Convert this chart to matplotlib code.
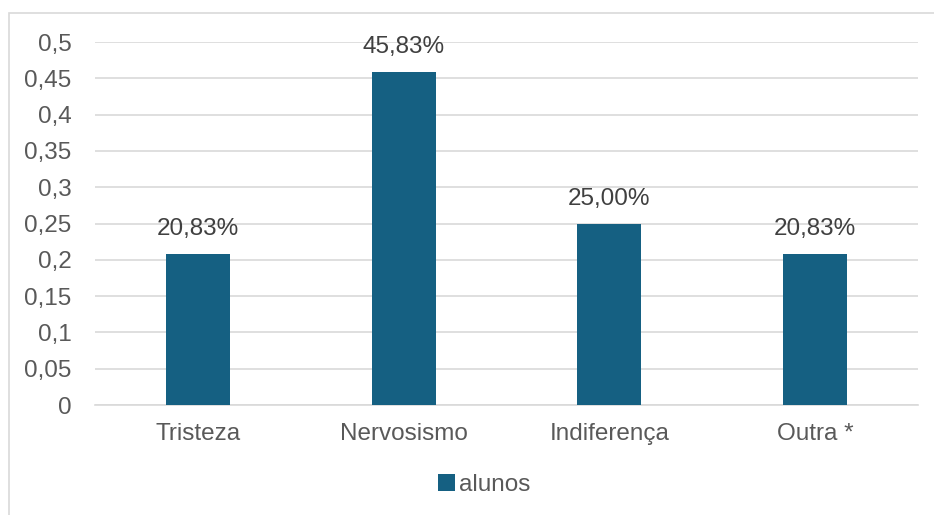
import matplotlib.pyplot as plt
from matplotlib.patches import Rectangle

categorias = ["Tristeza", "Nervosismo", "Indiferença", "Outra *"]
valores = [0.2083, 0.4583, 0.25, 0.2083]
rotulos = ["20,83%", "45,83%", "25,00%", "20,83%"]
yticks = [0, 0.05, 0.1, 0.15, 0.2, 0.25, 0.3, 0.35, 0.4, 0.45, 0.5]
ytick_labels = ["0", "0,05", "0,1", "0,15", "0,2", "0,25", "0,3", "0,35", "0,4", "0,45", "0,5"]

cor_barra = "#156082"
cor_texto = "#595959"

plt.rcParams['font.family'] = ['Liberation Sans', 'DejaVu Sans']

fig = plt.figure(figsize=(9.34, 5.15), dpi=100)
# borda do gráfico (cortada à direita e embaixo)
fig.patches.append(Rectangle((9 / 934, -0.05), 1.0, 1 - 13 / 515 + 0.05,
                             transform=fig.transFigure, fill=False,
                             edgecolor="#d9d9d9", linewidth=1.2))

ax = fig.add_axes([95 / 934, (515 - 405) / 515, 823 / 934, (405 - 42) / 515])
x = range(len(categorias))
ax.bar(x, valores, width=0.31, color=cor_barra, label="alunos", zorder=3)

for i, (v, r) in enumerate(zip(valores, rotulos)):
    ax.text(i, v + 0.019, r, ha="center", va="bottom", fontsize=17.5, color="#404040")

ax.set_xlim(-0.5, len(categorias) - 0.5)
ax.set_ylim(0, 0.5)
ax.set_yticks(yticks)
ax.set_yticklabels(ytick_labels, fontsize=17.5, color=cor_texto)
ax.set_xticks(list(x))
ax.set_xticklabels(categorias, fontsize=17.5, color=cor_texto)
ax.tick_params(axis="both", length=0)
ax.tick_params(axis="y", pad=17)
ax.tick_params(axis="x", pad=13)
ax.grid(axis="y", color="#d9d9d9", linewidth=1.2, zorder=0)
for s in ["top", "right", "left"]:
    ax.spines[s].set_visible(False)
ax.spines["bottom"].set_color("#d9d9d9")
ax.spines["bottom"].set_linewidth(1.2)

leg = fig.legend(loc="center", bbox_to_anchor=(484 / 934, 1 - 485 / 515), frameon=False,
                 fontsize=17.5, handlelength=0.7, handleheight=0.7, handletextpad=0.15)
for t in leg.get_texts():
    t.set_color(cor_texto)

fig.savefig("out.png", dpi=100)
